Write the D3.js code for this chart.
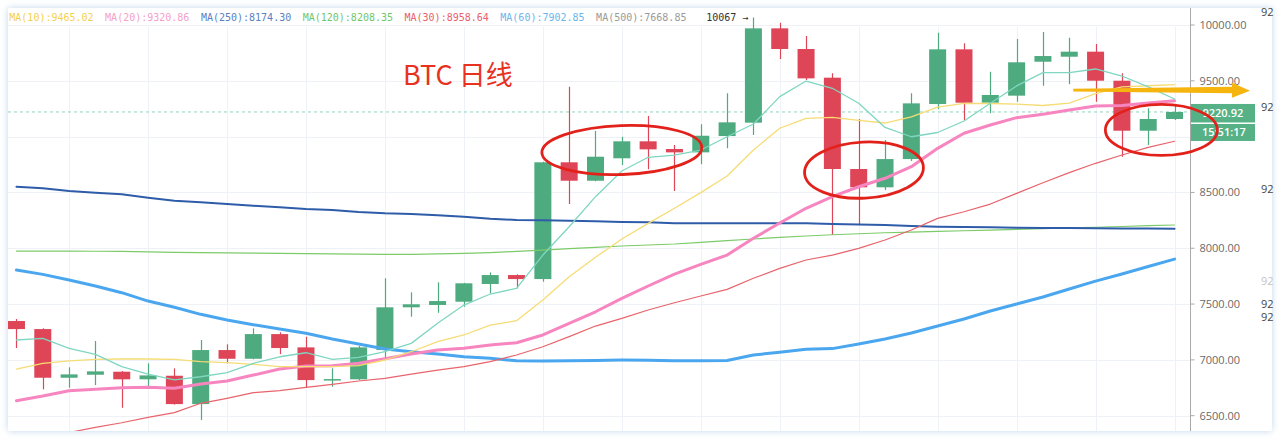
<!DOCTYPE html>
<html>
<head>
<meta charset="utf-8">
<script src="https://cdn.jsdelivr.net/npm/d3@7/dist/d3.min.js"></script>
<style>
  html, body { margin: 0; padding: 0; background: #ffffff; }
  svg { display: block; }
</style>
</head>
<body>
<svg id="chart" width="1280" height="439"></svg>
<script>
// ---- Daily BTC candles (45 sessions) ----
const days = d3.range(45);
const open  = [7348,7276,6840,6867,6894,6826,6858,6604,7088,7010,7231,7112,6816,6826,7088,
               7471,7492,7521,7680,7760,7724,8770,8605,8806,8958,8889,8859,9005,9125,9970,
               9785,9528,8710,8546,8799,9292,9782,9304,9367,9671,9716,9761,9501,9053,9158];
const high  = [7366,7283,6933,7169,6900,6969,6924,7178,7139,7283,7247,7207,6924,7124,7731,
               7605,7695,7690,7784,7767,8775,9447,9050,8999,9185,8925,9110,9388,10067,10021,
               9901,9567,9158,8970,9388,9931,9836,9582,9875,9937,9886,9830,9567,9254,9274];
const low   = [7106,6736,6750,6774,6571,6759,6600,6461,6969,7005,7052,6754,6759,6820,7014,
               7387,7422,7476,7596,7641,7700,8396,8600,8746,8707,8513,8752,8895,9014,9695,
               9507,8118,8208,8522,8781,9247,9149,9209,9313,9456,9469,9313,8820,8925,9150];
const close = [7276,6840,6870,6897,6826,6861,6604,7088,7010,7231,7106,6819,6828,7112,7471,
               7498,7527,7686,7760,7724,8770,8605,8820,8958,8886,8859,9008,9128,9970,9785,
               9522,8710,8546,8799,9298,9782,9304,9373,9666,9722,9761,9501,9053,9158,9220.92];

// ---- Moving averages ----
const ma5   = [7178,7193,7104,7050,6939,6873,6820,6849,6885,6969,7028,7064,7005,7023,7073,
               7148,7328,7491,7590,7641,7939,8193,8462,8692,8815,8835,8880,8999,9113,9358,
               9498,9433,9299,9082,8999,9037,9140,9299,9454,9573,9573,9606,9543,9445,9337];
const ma10  = [6918,6969,6992,7005,7008,7008,7005,6984,6975,6960,6939,6939,6939,6948,6999,
               7073,7163,7223,7312,7351,7536,7745,7919,8083,8223,8358,8498,8647,8880,9075,
               9164,9173,9146,9122,9176,9265,9297,9297,9292,9279,9301,9385,9445,9456,9465.02];
const ma20  = [6634,6676,6724,6736,6751,6755,6745,6784,6811,6864,6918,6945,6948,6969,7010,
               7052,7088,7104,7133,7154,7223,7328,7431,7551,7662,7769,7856,7939,8089,8226,
               8358,8462,8551,8627,8731,8895,9030,9104,9170,9200,9238,9274,9279,9301,9320.86];
const ma30  = [6264,6304,6349,6396,6437,6485,6527,6611,6656,6706,6724,6754,6781,6811,6835,
               6873,6909,6939,6984,7044,7118,7208,7303,7372,7447,7512,7572,7632,7731,7820,
               7895,7939,7999,8074,8163,8268,8327,8396,8492,8587,8677,8761,8835,8904,8958.64];
const ma60  = [7805,7766,7715,7662,7602,7527,7471,7408,7357,7315,7276,7238,7187,7142,7097,
               7073,7052,7028,7014,6992,6990,6992,6995,6998,6996,6993,6992,6995,7044,7068,
               7095,7101,7142,7187,7241,7303,7366,7438,7500,7563,7635,7706,7769,7836,7902.85];
const ma120 = [7975,7975,7974,7973,7972,7968,7964,7960,7958,7956,7954,7952,7950,7948,7946,
               7946,7950,7955,7961,7972,7984,7996,8008,8020,8029,8038,8053,8068,8083,8098,
               8110,8121,8130,8139,8145,8151,8157,8163,8169,8176,8182,8188,8195,8202,8208.35];
const ma250 = [8551,8537,8513,8498,8483,8453,8426,8412,8396,8381,8367,8352,8343,8325,8313,
               8307,8295,8283,8265,8253,8250,8247,8241,8235,8232,8223,8223,8223,8223,8223,
               8223,8217,8213,8208,8199,8193,8190,8188,8184,8182,8181,8180,8178,8176,8174.30];

// ---- Legend and axis text ----
const legendLabels = ["MA(10)", "MA(20)", "MA(250)", "MA(120)", "MA(30)", "MA(60)", "MA(500)"];
const legendValues = [9465.02, 9320.86, 8174.30, 8208.35, 8958.64, 7902.85, 7668.85];
const priceTicks = [6500, 7000, 7500, 8000, 8500, 9000, 9500, 10000];
const lastTime = "15:51:17";
const title = "BTC 日线";
// fragments of a neighbouring price scale peeking in at the right edge
const edgeText = ["92", "92", "92", "92", "92", "92"];
const edgePrices = [10113, 9262, 8531, 7707, 7500, 7383];

// ---- Colours ----
const UP = "#4eab7f", DOWN = "#de4557";
const C = {
  ma5: "#7fd6c1", ma10: "#f6dc74", ma20: "#f785bf", ma30: "#e8646c",
  ma60: "#4aa7ef", ma120: "#7ccb69", ma250: "#2e5ca9"
};
const legendColors = ["#f4d052", "#f49fc7", "#5b80c2", "#72c66a", "#e8616d", "#6cb5ed", "#9a9a9a"];

// ---- Layout ----
const frame = {x0: 8, y0: 8, x1: 1272, y1: 431};
const axisX = 1190.5;

const svg = d3.select("#chart");
const defs = svg.append("defs");

const shadow = defs.append("filter").attr("id", "shadow")
  .attr("x", "-5%").attr("y", "-5%").attr("width", "110%").attr("height", "110%");
shadow.append("feDropShadow").attr("dx", 0).attr("dy", 0).attr("stdDeviation", 3.5)
  .attr("flood-color", "#8fb4d8").attr("flood-opacity", 0.55);

defs.append("clipPath").attr("id", "plotClip").append("rect")
  .attr("x", frame.x0).attr("y", frame.y0)
  .attr("width", axisX - frame.x0).attr("height", frame.y1 - frame.y0);

// panel
svg.append("rect")
  .attr("x", frame.x0).attr("y", frame.y0)
  .attr("width", frame.x1 - frame.x0).attr("height", frame.y1 - frame.y0)
  .attr("rx", 2).attr("fill", "#ffffff").attr("filter", "url(#shadow)");

// scales
const x = d3.scaleBand().domain(days).range([3.3, 1187.7])
  .paddingInner(0.354).paddingOuter(0.177);
const xc = i => x(i) + x.bandwidth() / 2;
const y = d3.scaleLinear().domain([6500, 10000]).range([415.7, 25]);

// grid
const grid = svg.append("g").attr("clip-path", "url(#plotClip)");
grid.selectAll("line.h").data(priceTicks).join("line")
  .attr("x1", frame.x0).attr("x2", axisX)
  .attr("y1", d => Math.round(y(d)) + 0.5).attr("y2", d => Math.round(y(d)) + 0.5)
  .attr("stroke", "#eef2f6").attr("stroke-width", 1);
grid.selectAll("line.v").data(days.filter(d => d % 3 === 2)).join("line")
  .attr("x1", d => Math.round(xc(d)) + 0.5).attr("x2", d => Math.round(xc(d)) + 0.5)
  .attr("y1", 27).attr("y2", frame.y1)
  .attr("stroke", "#eef2f6").attr("stroke-width", 1);

// last price dashed guide
grid.append("line")
  .attr("x1", frame.x0).attr("x2", axisX)
  .attr("y1", y(close[44])).attr("y2", y(close[44]))
  .attr("stroke", "#93d3c0").attr("stroke-width", 1).attr("stroke-dasharray", "3,3");

// candles
const plot = svg.append("g").attr("clip-path", "url(#plotClip)");
const candles = plot.selectAll("g.candle").data(days).join("g");
candles.append("line")
  .attr("x1", d => Math.round(xc(d)) + 0.5).attr("x2", d => Math.round(xc(d)) + 0.5)
  .attr("y1", d => y(high[d])).attr("y2", d => y(low[d]))
  .attr("stroke", d => close[d] >= open[d] ? UP : DOWN).attr("stroke-width", 1.2);
candles.append("rect")
  .attr("x", d => x(d)).attr("width", x.bandwidth())
  .attr("y", d => y(Math.max(open[d], close[d])))
  .attr("height", d => Math.max(1.5, Math.abs(y(open[d]) - y(close[d]))))
  .attr("fill", d => close[d] >= open[d] ? UP : DOWN);

// moving average lines
const lineGen = d3.line().x((v, i) => xc(i)).y(v => y(v)).curve(d3.curveLinear);
const series = [
  {data: ma120, color: C.ma120, w: 1.2},
  {data: ma250, color: C.ma250, w: 2},
  {data: ma60,  color: C.ma60,  w: 3},
  {data: ma30,  color: C.ma30,  w: 1.2},
  {data: ma20,  color: C.ma20,  w: 3},
  {data: ma10,  color: C.ma10,  w: 1.3},
  {data: ma5,   color: C.ma5,   w: 1.3}
];
plot.selectAll("path.ma").data(series).join("path")
  .attr("d", s => lineGen(s.data))
  .attr("fill", "none").attr("stroke", s => s.color).attr("stroke-width", s => s.w)
  .attr("stroke-linejoin", "round").attr("stroke-linecap", "round");

// price axis
const ly = y(close[44]);
const axisG = svg.append("g").attr("transform", `translate(${axisX},0)`);
axisG.append("line").attr("y1", frame.y0).attr("y2", frame.y1)
  .attr("stroke", "#a9a9a9").attr("stroke-width", 1);
axisG.selectAll("line.tick").data(priceTicks).join("line")
  .attr("x1", 0).attr("x2", 4)
  .attr("y1", d => y(d)).attr("y2", d => y(d))
  .attr("stroke", "#a9a9a9");
// labels hidden behind the last-price / clock tags are skipped
const visibleTicks = priceTicks.filter(d => y(d) < ly - 16 || y(d) > ly + 38);
axisG.selectAll("text.tick").data(visibleTicks).join("text")
  .attr("x", 9).attr("y", d => y(d)).attr("dy", "0.35em")
  .attr("font-family", "'Open Sans', sans-serif").attr("font-size", 11)
  .attr("fill", "#6a6a6a")
  .text(d => d3.format(".2f")(d));

// last price + time tags
const boxes = svg.append("g");
boxes.append("rect").attr("x", axisX + 0.5).attr("y", ly - 8).attr("width", 64).attr("height", 18.5)
  .attr("fill", "#56b286");
boxes.append("rect").attr("x", axisX + 0.5).attr("y", ly + 12).attr("width", 64).attr("height", 17)
  .attr("fill", "#56b286");
boxes.append("text").attr("x", axisX + 12).attr("y", ly + 1.2).attr("dy", "0.35em")
  .attr("font-family", "'Open Sans', sans-serif").attr("font-size", 11).attr("font-weight", 600)
  .attr("fill", "#ffffff").text(d3.format(".2f")(close[44]));
boxes.append("text").attr("x", axisX + 11.5).attr("y", ly + 20.5).attr("dy", "0.35em")
  .attr("font-family", "'Open Sans', sans-serif").attr("font-size", 11).attr("font-weight", 600)
  .attr("fill", "#ffffff").text(lastTime);

// neighbouring scale fragments
svg.append("g").selectAll("text").data(edgePrices).join("text")
  .attr("x", 1261).attr("y", d => y(d)).attr("dy", "0.35em")
  .attr("font-family", "'Open Sans', sans-serif").attr("font-size", 11)
  .attr("fill", (d, i) => i === 3 ? "#c4c4c4" : "#444")
  .text((d, i) => edgeText[i]);

// legend
const legend = svg.append("g").attr("font-family", "'DejaVu Sans Mono', monospace").attr("font-size", 10);
let lx = 9.3;
legendLabels.forEach((lab, i) => {
  const t = legend.append("text").attr("x", lx).attr("y", 20.5)
    .attr("fill", legendColors[i]).text(`${lab}:${legendValues[i].toFixed(2)}`);
  lx += t.node().getComputedTextLength() + 11.5;
});

// highest candle marker
const hiIdx = d3.maxIndex(high);
legend.append("text").attr("x", xc(hiIdx) - 5).attr("y", 20.5).attr("text-anchor", "end")
  .attr("fill", "#333").text(`${high[hiIdx]} →`);

// title
svg.append("text").attr("x", 403).attr("y", 85)
  .attr("font-family", "'Noto Sans CJK SC', 'Noto Sans', sans-serif").attr("font-size", 27)
  .attr("fill", "#e8321f").text(title);

// annotations: circled consolidation zones
const ann = svg.append("g").attr("fill", "none").attr("stroke", "#e2221a").attr("stroke-width", 2.8);
const rings = [
  {i: 23, p: 8880, rx: 80, ry: 24.5, rot: -2},
  {i: 32.2, p: 8700, rx: 59.5, ry: 28, rot: -3},
  {i: 43.5, p: 9060, rx: 56, ry: 25.5, rot: 0}
];
rings.forEach(r => {
  const cx = 16.46 + r.i * x.step();
  ann.append("ellipse").attr("cx", 0).attr("cy", 0).attr("rx", r.rx).attr("ry", r.ry)
    .attr("transform", `translate(${cx},${y(r.p)}) rotate(${r.rot})`);
});

// trend arrow
const ax0 = xc(40) + 4, ax1 = 1232, ahTip = 1250, ay = y(9415);
svg.append("path")
  .attr("d", `M${ax0},${ay - 1.5} L${ax1},${ay - 3.5} L${ax1},${ay - 7.5} L${ahTip},${ay + 0.5} L${ax1},${ay + 7.5} L${ax1},${ay + 3} L${ax0},${ay + 1.2} Z`)
  .attr("fill", "#f6b40e");
</script>
</body>
</html>
